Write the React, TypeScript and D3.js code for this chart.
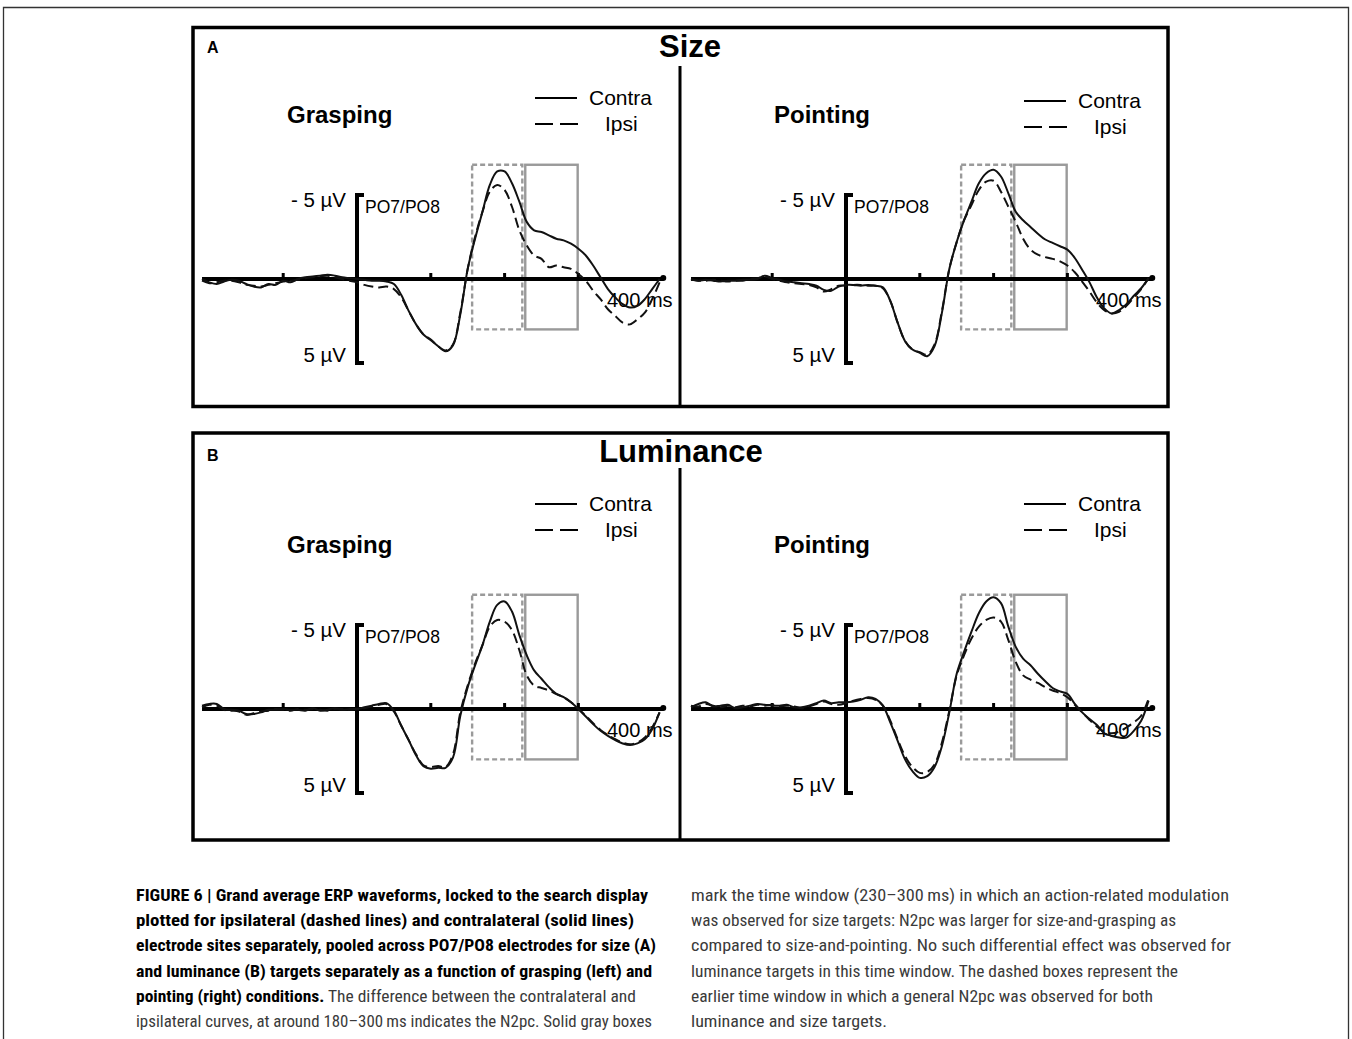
import React from "react";
import * as d3 from "d3";

// sample times (ms) shared by all waveforms
const timesMs = [
  -210, -200, -190, -180, -170, -160, -150, -140, -130, -120, -110, -100, -90, -80, -70, -60, -50, -40, -30, -20, -10,
  0, 10, 20, 30, 40, 50, 60, 70, 80, 90, 100, 110, 120, 130, 140, 150, 160, 170, 180, 190, 200,
  210, 220, 230, 240, 250, 260, 270, 280, 290, 300, 310, 320, 330, 340, 350, 360, 370, 380, 390, 400, 410,
];

// µV, negative up (ERP convention)
const sizeGraspContra = [
  0, 0.2, 0.3, 0.15, 0.05, 0.1, 0.3, 0.45, 0.5, 0.3, 0.35, 0.1, 0.2, 0, -0.1, -0.15, -0.2, -0.25, -0.2, -0.1, -0.05,
  0, 0.05, 0.1, 0.1, 0.15, 0.3, 0.95, 1.9, 2.7, 3.3, 3.65, 4.0, 4.3, 3.95, 2.1, -0.6, -2.4, -4.0, -5.6, -6.4, -6.4,
  -5.7, -4.6, -3.4, -2.9, -2.8, -2.6, -2.4, -2.3, -2.1, -1.8, -1.4, -0.8, -0.1, 0.6, 1.1, 1.5, 1.7, 1.6, 1.2, 0.6, 0,
];
const sizeGraspIpsi = [
  0.1, 0.25, 0.2, 0.1, 0.1, 0.2, 0.35, 0.4, 0.45, 0.35, 0.25, 0.15, 0.1, 0.05, -0.05, -0.1, -0.15, -0.2, -0.1, 0, 0.1,
  0.2, 0.35, 0.45, 0.5, 0.45, 0.6, 1.1, 1.9, 2.7, 3.3, 3.6, 4.0, 4.25, 3.9, 2.0, -0.6, -2.5, -4.0, -5.2, -5.6, -5.3,
  -4.3, -2.9, -2.0, -1.4, -1.2, -0.7, -0.8, -0.7, -0.6, -0.3, 0.1, 0.7, 1.2, 1.8, 2.2, 2.6, 2.7, 2.4, 2.0, 1.2, 0.2,
];
const sizePointContra = [
  0, 0.1, 0.05, 0.1, 0.15, 0.1, 0.1, 0.05, 0.05, 0, -0.2, -0.05, 0.05, 0.15, 0.2, 0.25, 0.3, 0.4, 0.65, 0.7, 0.45,
  0.35, 0.35, 0.4, 0.35, 0.4, 0.5, 1.3, 2.6, 3.7, 4.2, 4.4, 4.6, 4.0, 2.0, -0.6, -2.2, -3.5, -4.6, -5.7, -6.3, -6.5,
  -6.1, -5.1, -4.0, -3.5, -3.1, -2.7, -2.35, -2.15, -1.95, -1.75, -1.25, -0.55, 0.2, 1.1, 1.75, 2.05, 1.85, 1.5, 1.0, 0.55, -0.05,
];
const sizePointIpsi = [
  0.05, 0.1, 0.1, 0.05, 0.1, 0.15, 0.1, 0.1, 0, -0.05, -0.15, 0, 0.1, 0.2, 0.25, 0.3, 0.35, 0.5, 0.75, 0.6, 0.4,
  0.4, 0.35, 0.35, 0.4, 0.4, 0.55, 1.3, 2.6, 3.7, 4.2, 4.35, 4.5, 3.9, 1.9, -0.6, -2.2, -3.5, -4.4, -5.3, -5.8, -5.85,
  -5.2, -4.3, -3.4, -2.4, -1.75, -1.45, -1.3, -1.2, -1.05, -0.8, -0.4, 0.15, 0.75, 1.4, 1.85, 2.05, 1.95, 1.6, 1.1, 0.6, -0.05,
];
const lumGraspContra = [
  -0.2, -0.3, -0.3, 0, 0.05, 0.1, 0.3, 0.3, 0.2, 0.05, 0.05, 0, 0.05, 0.05, 0.1, -0.05, 0.1, 0.05, -0.05, 0.05, 0,
  0, -0.1, -0.2, -0.3, -0.35, 0.1, 1.0, 1.85, 2.75, 3.4, 3.55, 3.5, 3.5, 2.9, 0.4, -1.3, -2.6, -3.8, -5.2, -6.2, -6.4,
  -5.8, -4.4, -3.2, -2.3, -1.8, -1.3, -0.9, -0.7, -0.4, 0, 0.45, 0.9, 1.3, 1.6, 1.85, 2.05, 2.15, 2.05, 1.8, 1.2, 0.2,
];
const lumGraspIpsi = [
  -0.1, -0.25, -0.2, 0.05, 0.1, 0.15, 0.35, 0.25, 0.15, 0.1, 0, 0.05, 0.1, 0, 0.05, 0, 0.05, 0.1, 0, 0, 0.05,
  0, -0.05, -0.15, -0.25, -0.3, 0.15, 1.0, 1.85, 2.7, 3.35, 3.45, 3.4, 3.45, 2.7, 0.2, -1.4, -2.7, -3.8, -4.9, -5.3, -5.2,
  -4.7, -3.5, -2.0, -1.4, -1.25, -1.1, -0.9, -0.7, -0.4, 0, 0.4, 0.85, 1.25, 1.55, 1.8, 2.0, 2.1, 2.0, 1.7, 1.1, 0.2,
];
const lumPointContra = [
  -0.1, -0.3, -0.4, -0.15, -0.2, -0.25, -0.05, -0.1, -0.2, -0.3, -0.25, -0.2, -0.2, -0.25, -0.1, -0.1, -0.2, -0.35, -0.5, -0.35, -0.4,
  -0.4, -0.45, -0.55, -0.7, -0.6, -0.2, 0.8, 1.9, 3.0, 3.7, 4.1, 4.0, 3.45, 2.2, 0.2, -2.1, -3.4, -4.6, -5.7, -6.4, -6.65,
  -6.3, -4.9, -3.7, -3.0, -2.6, -2.1, -1.65, -1.25, -1.05, -0.9, -0.3, 0.2, 0.6, 0.95, 1.45, 1.6, 1.7, 1.7, 1.3, 0.7, -0.5,
];
const lumPointIpsi = [
  -0.2, -0.15, -0.3, -0.2, -0.1, -0.2, -0.1, -0.2, -0.15, -0.25, -0.2, -0.25, -0.15, -0.2, -0.15, -0.05, -0.15, -0.3, -0.45, -0.3, -0.25,
  -0.35, -0.5, -0.6, -0.65, -0.55, -0.2, 0.7, 1.8, 2.8, 3.45, 3.8, 3.75, 3.3, 2.0, 0.1, -2.0, -3.2, -4.2, -4.9, -5.3, -5.45,
  -5.2, -4.1, -2.8, -2.0, -1.75, -1.55, -1.3, -1.1, -0.95, -0.7, -0.25, 0.2, 0.65, 1.05, 1.35, 1.45, 1.35, 1.1, 0.8, 0.4, -0.6,
];

const axisExtentMs = [-210, 415];
const tickMs = [-100, 100, 200, 300];
const earlyWindowMs = [156, 224];
const lateWindowMs = [228, 299];
const windowVolts = [-6.8, 3.0];

const captionLeft = [
  { bold: "FIGURE 6 | Grand average ERP waveforms, locked to the search display", rest: "", w: 512 },
  { bold: "plotted for ipsilateral (dashed lines) and contralateral (solid lines)", rest: "", w: 498 },
  { bold: "electrode sites separately, pooled across PO7/PO8 electrodes for size (A)", rest: "", w: 520 },
  { bold: "and luminance (B) targets separately as a function of grasping (left) and", rest: "", w: 516 },
  { bold: "pointing (right) conditions.", rest: " The difference between the contralateral and", w: 500 },
  { bold: "", rest: "ipsilateral curves, at around 180\u2013300\u2009ms indicates the N2pc. Solid gray boxes", w: 516 },
];
const captionRight = [
  { text: "mark the time window (230\u2013300\u2009ms) in which an action-related modulation", w: 538 },
  { text: "was observed for size targets: N2pc was larger for size-and-grasping as", w: 485 },
  { text: "compared to size-and-pointing. No such differential effect was observed for", w: 540 },
  { text: "luminance targets in this time window. The dashed boxes represent the", w: 487 },
  { text: "earlier time window in which a general N2pc was observed for both", w: 462 },
  { text: "luminance and size targets.", w: 196 },
];

const PX_PER_MS = 0.738;
const HALF_AXIS = 84; // px for 5 µV
const FONT = "'Liberation Sans', Arial, Helvetica, sans-serif";
const CAP_FONT = "'Liberation Sans Narrow', 'Roboto Condensed', 'Liberation Sans', Arial, sans-serif";

const panels = [
  { cond: "Grasping", x0: 357, y0: 279, legendDy: -181, titleDx: -70, contra: sizeGraspContra, ipsi: sizeGraspIpsi },
  { cond: "Pointing", x0: 846, y0: 279, legendDy: -178, titleDx: -72, contra: sizePointContra, ipsi: sizePointIpsi },
  { cond: "Grasping", x0: 357, y0: 709, legendDy: -205, titleDx: -70, contra: lumGraspContra, ipsi: lumGraspIpsi },
  { cond: "Pointing", x0: 846, y0: 709, legendDy: -205, titleDx: -72, contra: lumPointContra, ipsi: lumPointIpsi },
];

function Panel({ p }: { p: any }) {
  const x = d3.scaleLinear()
    .domain(axisExtentMs)
    .range([p.x0 + axisExtentMs[0] * PX_PER_MS, p.x0 + axisExtentMs[1] * PX_PER_MS]);
  const y = d3.scaleLinear().domain([-5, 5]).range([p.y0 - HALF_AXIS, p.y0 + HALF_AXIS]);
  const line = d3.line<number>()
    .x((_, i) => x(timesMs[i]))
    .y((v) => y(v))
    .curve(d3.curveCatmullRom.alpha(0.5));
  const ox = x(0);
  const oy = y(0);
  const ly = oy + p.legendDy;
  const gray = "#9a9a9a";

  return (
    <g>
      <text x={ox + p.titleDx} y={oy - 156} fontFamily={FONT} fontWeight="bold" fontSize={24}>{p.cond}</text>
      {/* legend */}
      <line x1={ox + 178} x2={ox + 220} y1={ly} y2={ly} stroke="#000" strokeWidth={2} />
      <line x1={ox + 178} x2={ox + 221} y1={ly + 26} y2={ly + 26} stroke="#000" strokeWidth={2.2} strokeDasharray="18 7" />
      <text x={ox + 232} y={ly + 7} fontFamily={FONT} fontSize={21}>Contra</text>
      <text x={ox + 248} y={ly + 33} fontFamily={FONT} fontSize={21}>Ipsi</text>

      {/* time windows */}
      <rect x={x(earlyWindowMs[0])} y={y(windowVolts[0])} width={x(earlyWindowMs[1]) - x(earlyWindowMs[0])}
        height={y(windowVolts[1]) - y(windowVolts[0])} fill="none" stroke={gray} strokeWidth={2.4} strokeDasharray="5 3" />
      <rect x={x(lateWindowMs[0])} y={y(windowVolts[0])} width={x(lateWindowMs[1]) - x(lateWindowMs[0])}
        height={y(windowVolts[1]) - y(windowVolts[0])} fill="none" stroke={gray} strokeWidth={2.4} />

      {/* axes */}
      <line x1={x(axisExtentMs[0])} x2={x(axisExtentMs[1])} y1={oy} y2={oy} stroke="#000" strokeWidth={4} />
      {tickMs.map((t) => (
        <line key={t} x1={x(t)} x2={x(t)} y1={oy} y2={oy - 6} stroke="#000" strokeWidth={3} />
      ))}
      <circle cx={x(axisExtentMs[1])} cy={oy - 1} r={3} fill="#000" />
      <path d={`M${ox + 7},${y(-5)} H${ox} V${y(5)} H${ox + 7}`} fill="none" stroke="#000" strokeWidth={4} />
      <text x={ox - 11} y={oy - 72} textAnchor="end" fontFamily={FONT} fontSize={20.5}>- 5 µV</text>
      <text x={ox - 11} y={oy + 83} textAnchor="end" fontFamily={FONT} fontSize={20.5}>5 µV</text>
      <text x={ox + 8} y={oy - 66} fontFamily={FONT} fontSize={17.5}>PO7/PO8</text>
      <text x={ox + 250} y={oy + 28} fontFamily={FONT} fontSize={20}>400 ms</text>

      {/* waveforms */}
      <path d={line(p.ipsi) || ""} fill="none" stroke="#111" strokeWidth={2} strokeDasharray="10 5" />
      <path d={line(p.contra) || ""} fill="none" stroke="#111" strokeWidth={2} />
    </g>
  );
}

export default function App() {
  return (
    <svg width={1352} height={1039} style={{ position: "absolute", left: 0, top: 0, background: "#fff" }}>
      <rect x={0} y={0} width={1352} height={1039} fill="#fff" />
      <path d="M3.5,1039 V7.5 H1348.5 V1039" fill="none" stroke="#333" strokeWidth={1.3} />

      {/* panel frames */}
      <rect x={193} y={27.5} width={975} height={379} fill="none" stroke="#000" strokeWidth={3.5} />
      <line x1={680} x2={680} y1={66} y2={406} stroke="#000" strokeWidth={3} />
      <rect x={193} y={433} width={975} height={407} fill="none" stroke="#000" strokeWidth={3.5} />
      <line x1={680} x2={680} y1={468} y2={840} stroke="#000" strokeWidth={3} />

      <text x={207} y={53} fontFamily={FONT} fontWeight="bold" fontSize={16}>A</text>
      <text x={690} y={57} textAnchor="middle" fontFamily={FONT} fontWeight="bold" fontSize={31}>Size</text>
      <text x={207} y={461} fontFamily={FONT} fontWeight="bold" fontSize={16}>B</text>
      <text x={681} y={462} textAnchor="middle" fontFamily={FONT} fontWeight="bold" fontSize={31}>Luminance</text>

      {panels.map((p, i) => <Panel key={i} p={p} />)}

      {/* caption */}
      {captionLeft.map((c, i) => (
        <text key={"l" + i} x={136} y={901 + i * 25.2} fontFamily={CAP_FONT} fontSize={17}
          textLength={c.w} lengthAdjust="spacingAndGlyphs">
          {c.bold && <tspan fontWeight="bold" fill="#000">{c.bold}</tspan>}
          {c.rest && <tspan fill="#3a3a3a">{c.rest}</tspan>}
        </text>
      ))}
      {captionRight.map((c, i) => (
        <text key={"r" + i} x={691} y={901 + i * 25.2} fontFamily={CAP_FONT} fontSize={17} fill="#3a3a3a"
          textLength={c.w} lengthAdjust="spacingAndGlyphs">
          {c.text}
        </text>
      ))}
    </svg>
  );
}
